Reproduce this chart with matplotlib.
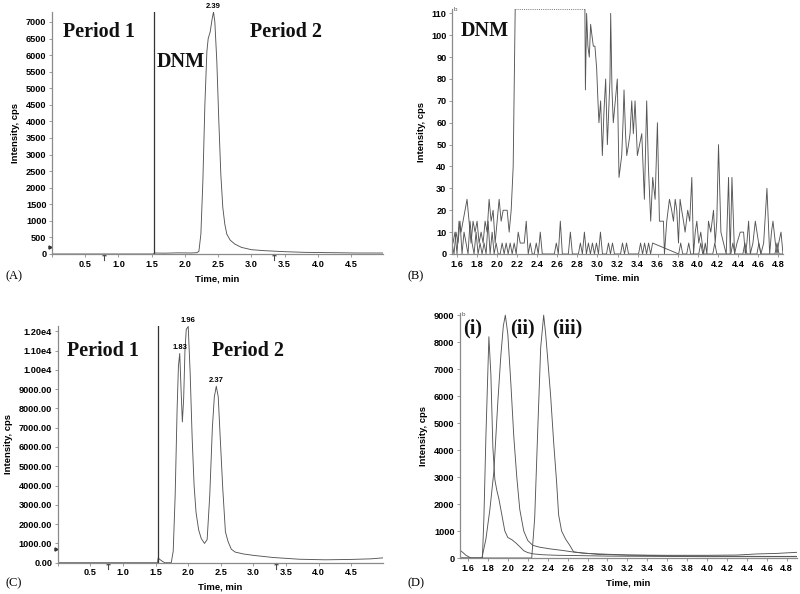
import matplotlib
matplotlib.use("Agg")
import matplotlib.pyplot as plt
from matplotlib.ticker import FuncFormatter, MultipleLocator
import matplotlib.transforms as mtrans

# ---------------- data ----------------
# Panel A (total chromatogram, DNM period)
A_t = [0.00, 1.53, 1.54, 1.70, 1.90, 2.10, 2.18, 2.21, 2.24, 2.27, 2.30, 2.33, 2.35, 2.38,
       2.41, 2.43, 2.45, 2.48, 2.51, 2.54, 2.57, 2.60, 2.63, 2.68, 2.75, 2.85, 3.00, 3.20,
       3.50, 3.80, 4.20, 4.60, 4.98]
A_v = [0, 0, 30, 25, 35, 30, 40, 80, 600, 2200, 4500, 6100, 6500, 6700,
       7100, 7300, 7000, 5800, 4000, 2400, 1400, 900, 600, 420, 300, 200, 130, 100,
       70, 50, 40, 30, 30]
A_peak_label = ("2.39", 2.43, 7300)
A_period_line = 1.535

# Panel B (zoomed DNM trace + blank trace)
B_main1_t = [1.55, 1.56, 1.58, 1.60, 1.62, 1.64, 1.66, 1.68, 1.70, 1.72, 1.74, 1.76, 1.78, 1.80,
             1.82, 1.84, 1.86, 1.88, 1.90, 1.92, 1.94, 1.96, 1.98, 2.00, 2.02, 2.04, 2.06,
             2.08, 2.10, 2.12, 2.14, 2.16, 2.18]
B_main1_v = [10, 5, 10, 0, 15, 10, 15, 20, 25, 15, 5, 15, 10, 15,
             5, 10, 5, 15, 10, 25, 15, 20, 5, 15, 25, 15, 20,
             20, 20, 10, 20, 40, 112]
B_main2_t = [2.875, 2.88, 2.892, 2.905, 2.919, 2.932, 2.945, 2.959, 2.975, 2.992, 3.005, 3.015,
             3.032, 3.049, 3.065, 3.082, 3.099, 3.112, 3.125, 3.132, 3.145, 3.158, 3.178,
             3.198, 3.215, 3.242, 3.255, 3.265, 3.280, 3.292, 3.310, 3.325, 3.342, 3.358,
             3.375, 3.398, 3.420, 3.442, 3.468, 3.491, 3.508, 3.531, 3.551, 3.575, 3.598,
             3.618, 3.640, 3.658, 3.668, 3.691, 3.718, 3.740, 3.758, 3.775, 3.791, 3.808,
             3.824, 3.840, 3.858, 3.874, 3.900, 3.920, 3.941, 3.958, 3.975, 3.991, 4.010,
             4.030, 4.058, 4.075, 4.091, 4.107, 4.130, 4.157, 4.174, 4.190, 4.207, 4.231,
             4.257, 4.284, 4.307, 4.324, 4.341, 4.367, 4.391, 4.424, 4.457, 4.474, 4.490,
             4.507, 4.524, 4.550, 4.574, 4.607, 4.630, 4.657, 4.690, 4.717, 4.735, 4.750,
             4.774, 4.790, 4.807, 4.830, 4.850, 4.870]
B_main2_v = [112, 75, 110, 95, 90, 105, 100, 95, 95, 85, 70, 60,
             70, 45, 65, 80, 50, 65, 80, 110, 75, 60, 70,
             80, 35, 45, 60, 75, 55, 45, 50, 55, 70, 55,
             70, 45, 50, 55, 25, 70, 40, 15, 35, 25, 60,
             15, 15, 15, 0, 15, 25, 20, 15, 25, 20, 5,
             25, 20, 15, 10, 20, 15, 35, 0, 10, 15, 5,
             10, 0, 5, 0, 15, 10, 20, 5, 15, 50, 10,
             5, 0, 35, 0, 35, 0, 5, 10, 10, 0, 5,
             15, 0, 5, 15, 5, 0, 5, 30, 0, 10, 15,
             5, 0, 5, 10, 0, 10]
B_low_t = [1.55, 1.57, 1.59, 1.61, 1.63, 1.65, 1.67, 1.69, 1.71, 1.73, 1.75, 1.77, 1.79, 1.81,
           1.83, 1.85, 1.87, 1.89, 1.91, 1.93, 1.95, 1.97, 1.99, 2.01, 2.03, 2.05, 2.07, 2.09,
           2.11, 2.13, 2.15, 2.17, 2.19, 2.21, 2.23, 2.25, 2.27, 2.29, 2.31, 2.33, 2.35, 2.37,
           2.39, 2.41, 2.43, 2.45, 2.47, 2.57, 2.59, 2.61, 2.63, 2.65, 2.71, 2.73, 2.75, 2.81,
           2.83, 2.85, 2.87, 2.89, 2.91, 2.93, 2.95, 2.97, 2.99, 3.01, 3.03, 3.05, 3.09, 3.11,
           3.13, 3.15, 3.17, 3.23, 3.25, 3.27, 3.29, 3.31, 3.41, 3.43, 3.45, 3.47, 3.49, 3.51,
           3.53, 3.55, 3.81, 3.83, 3.85, 3.89, 3.91, 3.93, 4.01, 4.03, 4.05, 4.15, 4.17, 4.19,
           4.33, 4.35, 4.37, 4.45, 4.47, 4.49, 4.59, 4.61, 4.63, 4.77, 4.79, 4.81, 4.87]
B_low_v = [5, 0, 10, 5, 15, 0, 10, 5, 0, 15, 5, 0, 10, 0,
           5, 0, 5, 0, 15, 0, 10, 0, 5, 0, 0, 5, 0, 5,
           0, 5, 0, 5, 0, 10, 5, 5, 5, 15, 0, 5, 0, 0,
           5, 0, 10, 0, 0, 0, 5, 0, 15, 0, 0, 10, 0, 0,
           5, 0, 10, 0, 5, 0, 5, 0, 5, 0, 10, 0, 0, 5,
           0, 5, 0, 0, 5, 0, 5, 0, 0, 5, 0, 5, 0, 5,
           0, 5, 0, 5, 0, 0, 5, 0, 0, 5, 0, 0, 5, 0,
           0, 5, 0, 0, 5, 0, 0, 5, 0, 0, 5, 0, 0]
B_clip = 112

# Panel C (spiked sample)
C_t = [0.00, 1.53, 1.54, 1.56, 1.60, 1.64, 1.74, 1.77, 1.80, 1.83, 1.85, 1.87, 1.89, 1.91,
       1.93, 1.95, 1.97, 2.00, 2.03, 2.06, 2.09, 2.12, 2.16, 2.20, 2.25, 2.29, 2.33, 2.37,
       2.40, 2.43, 2.46, 2.49, 2.53, 2.57, 2.61, 2.66, 2.72, 2.85, 3.00, 3.30, 3.70, 4.10,
       4.50, 4.80, 4.98]
C_v = [0, 0, 250, 180, 80, 0, 0, 600, 3500, 8000, 10200, 10850, 9000, 7300,
       8500, 11000, 12100, 12250, 9800, 6500, 4000, 2600, 1700, 1250, 1000, 1200, 3500, 7000,
       8600, 9150, 8600, 6500, 3800, 1600, 1100, 700, 550, 450, 380, 270, 180, 150,
       170, 200, 250]
C_peak_labels = [("1.83", 1.87, 10850), ("1.96", 2.00, 12250), ("2.37", 2.43, 9150)]
C_period_line = 1.54

# Panel D (three overlaid traces)
D1_t = [1.52, 1.745, 1.76, 1.78, 1.81, 1.83, 1.85, 1.87, 1.89, 1.91, 1.94, 1.97, 2.00, 2.04,
        2.08, 2.12, 2.16, 2.20, 2.26, 2.35, 2.50, 2.70, 3.00, 3.50, 4.00, 4.50, 4.90]
D1_v = [0, 0, 1500, 4500, 8200, 6800, 4100, 2900, 2500, 2200, 1600, 1000, 760, 680,
        560, 420, 270, 200, 150, 120, 100, 90, 70, 60, 50, 50, 50]
D2_t = [1.52, 1.74, 1.78, 1.82, 1.86, 1.90, 1.93, 1.955, 1.975, 2.00, 2.03, 2.06, 2.09, 2.12,
        2.16, 2.20, 2.25, 2.32, 2.42, 2.55, 2.66, 2.80, 2.92, 3.20, 3.60, 4.00, 4.30, 4.50,
        4.70, 4.90]
D2_v = [0, 0, 700, 1800, 3200, 5800, 7500, 8600, 9000, 8300, 6500, 4500, 3000, 1800,
        1000, 650, 470, 400, 340, 280, 220, 170, 130, 110, 100, 100, 110, 150,
        170, 210]
D3_t = [1.52, 1.55, 1.58, 1.63, 1.70, 2.00, 2.24, 2.27, 2.30, 2.33, 2.36, 2.38, 2.40, 2.43,
        2.46, 2.49, 2.51, 2.54, 2.58, 2.62, 2.66, 2.75, 2.92, 3.20, 3.60, 4.00, 4.50, 4.90]
D3_v = [290, 200, 100, 0, 0, 0, 0, 1500, 4700, 7800, 9000, 8300, 7400, 6000,
        4300, 2800, 1600, 1000, 700, 480, 230, 180, 150, 110, 80, 70, 60, 60]
D_labels = [("(i)", 1.55), ("(ii)", 2.02), ("(iii)", 2.448)]

# ---------------- styling ----------------
W, H = 800, 594
fig = plt.figure(figsize=(8.0, 5.94), dpi=100)
LINE = "#555555"
SPINE = "#8a8a8a"
SANS = "Liberation Sans"
SERIF = "Liberation Serif"

def axes_px(left, right, top, bottom):
    return fig.add_axes([left / W, 1 - bottom / H, (right - left) / W, (bottom - top) / H])

def style(ax):
    for s in ("top", "right"):
        ax.spines[s].set_visible(False)
    for s in ("left", "bottom"):
        ax.spines[s].set_color(SPINE)
        ax.spines[s].set_linewidth(0.9)
    ax.tick_params(axis="both", length=2, width=0.6, color=SPINE, pad=2,
                   labelsize=6.6)
    for lab in ax.get_xticklabels() + ax.get_yticklabels():
        lab.set_fontfamily(SANS)
        lab.set_fontweight("bold")

def labels(ax, xlabel, xl_pad=4, yl_pad=4):
    ax.set_xlabel(xlabel, fontsize=6.8, fontfamily=SANS, fontweight="bold", labelpad=xl_pad)
    ax.set_ylabel("Intensity, cps", fontsize=6.8, fontfamily=SANS, fontweight="bold",
                  labelpad=yl_pad)

def big(ax, x, y, s):
    ax.text(x, y, s, fontsize=14.5, fontfamily=SERIF, fontweight="bold", ha="left",
            va="center", color="#111111")

def peak_label(ax, s, x, y):
    ax.annotate(s, (x, y), xytext=(0, 1.5), textcoords="offset points", ha="center",
                va="bottom", fontsize=5.5, fontfamily=SANS, fontweight="bold",
                annotation_clip=False)

def arrows(ax, xs):
    tr = mtrans.blended_transform_factory(ax.transData, ax.transAxes)
    for x in xs:
        ax.plot([x], [-0.012], marker=r"$\uparrow$", ms=5, color="#333333",
                transform=tr, clip_on=False, mew=0.2)

def left_tri(ax, y):
    tr = mtrans.blended_transform_factory(ax.transAxes, ax.transData)
    ax.plot([-0.006], [y], marker=">", ms=2.2, color="#333333", transform=tr, clip_on=False)

# ---------------- Panel A ----------------
axA = axes_px(52, 383, 12, 254)
axA.plot(A_t, A_v, color=LINE, lw=0.65)
axA.axvline(A_period_line, color="#333333", lw=0.9)
axA.set_xlim(0.0, 4.98)
axA.set_ylim(0, 7300)
axA.xaxis.set_major_locator(MultipleLocator(0.5))
axA.yaxis.set_major_locator(MultipleLocator(500))
axA.xaxis.set_major_formatter(FuncFormatter(lambda v, p: "" if v < 0.1 else f"{v:.1f}"))
axA.yaxis.set_major_formatter(FuncFormatter(lambda v, p: f"{v:.0f}"))
style(axA)
labels(axA, "Time, min")
big(axA, 0.17, 6700, "Period 1")
big(axA, 2.98, 6700, "Period 2")
big(axA, 1.575, 5800, "DNM")
peak_label(axA, *A_peak_label)
arrows(axA, [0.775, 3.34])
left_tri(axA, 200)
fig.text(5 / W, 1 - 276 / H, "(A)", fontsize=9, fontfamily=SERIF, va="center")

# ---------------- Panel B ----------------
axB = axes_px(452, 783, 9, 254)
axB.plot(B_low_t, B_low_v, color=LINE, lw=0.65)
axB.plot(B_main1_t, B_main1_v, color=LINE, lw=0.65)
axB.plot(B_main2_t, B_main2_v, color=LINE, lw=0.65)
axB.plot([B_main1_t[-1], B_main2_t[0]], [B_clip, B_clip], color="#777777", lw=0.7,
         ls=(0, (1, 1.2)), clip_on=False)
axB.set_xlim(1.55, 4.85)
axB.set_ylim(0, B_clip)
axB.xaxis.set_major_locator(MultipleLocator(0.2))
axB.yaxis.set_major_locator(MultipleLocator(10))
axB.xaxis.set_major_formatter(FuncFormatter(lambda v, p: f"{v:.1f}"))
axB.yaxis.set_major_formatter(FuncFormatter(lambda v, p: f"{v:.0f}"))
style(axB)
labels(axB, "Time. min")
big(axB, 1.64, 102, "DNM")
axB.text(0.004, 110.5, "b", transform=mtrans.blended_transform_factory(axB.transAxes, axB.transData),
         fontsize=4.5, fontfamily=SANS, color="#555555", va="bottom")
fig.text(408 / W, 1 - 276 / H, "(B)", fontsize=9, fontfamily=SERIF, va="center")

# ---------------- Panel C ----------------
axC = axes_px(57.7, 382.7, 325.5, 562.7)
axC.plot(C_t, C_v, color=LINE, lw=0.65)
axC.axvline(C_period_line, color="#333333", lw=0.9)
axC.set_xlim(0.0, 4.98)
axC.set_ylim(0, 12300)
axC.xaxis.set_major_locator(MultipleLocator(0.5))
axC.yaxis.set_major_locator(MultipleLocator(1000))

def c_fmt(v, p):
    if v >= 10000:
        return f"{v / 10000:.2f}e4"
    return f"{v:.2f}"

axC.xaxis.set_major_formatter(FuncFormatter(lambda v, p: "" if v < 0.1 else f"{v:.1f}"))
axC.yaxis.set_major_formatter(FuncFormatter(c_fmt))
style(axC)
labels(axC, "Time, min")
big(axC, 0.14, 11000, "Period 1")
big(axC, 2.37, 11000, "Period 2")
for s, x, y in C_peak_labels:
    peak_label(axC, s, x, y)
arrows(axC, [0.77, 3.35])
left_tri(axC, 700)
fig.text(5 / W, 1 - 583 / H, "(C)", fontsize=9, fontfamily=SERIF, va="center")

# ---------------- Panel D ----------------
axD = axes_px(460, 796.7, 313, 558)
for tt, vv in ((D1_t, D1_v), (D2_t, D2_v), (D3_t, D3_v)):
    axD.plot(tt, vv, color=LINE, lw=0.65)
axD.set_xlim(1.52, 4.9)
axD.set_ylim(0, 9080)
axD.xaxis.set_major_locator(MultipleLocator(0.2))
axD.yaxis.set_major_locator(MultipleLocator(1000))
axD.xaxis.set_major_formatter(FuncFormatter(lambda v, p: f"{v:.1f}"))
axD.yaxis.set_major_formatter(FuncFormatter(lambda v, p: f"{v:.0f}"))
style(axD)
labels(axD, "Time, min")
for s, x in D_labels:
    big(axD, x, 8500, s)
axD.text(0.004, 8950, "b", transform=mtrans.blended_transform_factory(axD.transAxes, axD.transData),
         fontsize=4.5, fontfamily=SANS, color="#555555", va="bottom")
fig.text(408 / W, 1 - 583 / H, "(D)", fontsize=9, fontfamily=SERIF, va="center")

fig.savefig("out.png", dpi=100)
